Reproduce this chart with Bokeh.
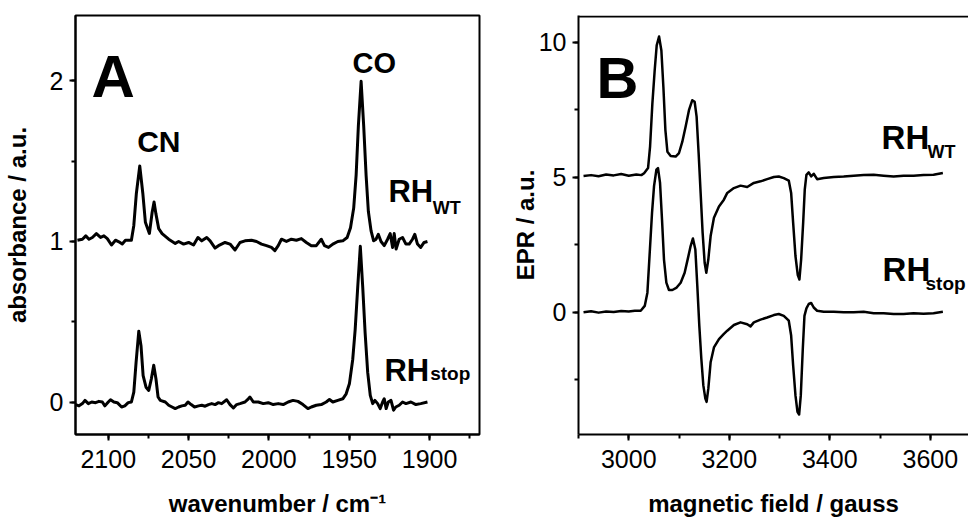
from bokeh.plotting import figure
from bokeh.models import Range1d, SingleIntervalTicker, Label
from bokeh.layouts import row
from bokeh.embed import file_html
from bokeh.resources import INLINE

# ---------------- data: panel A (IR) ----------------
ir_wt_wn = [2119.2, 2116.1, 2114.0, 2112.0, 2109.9, 2107.4, 2104.8, 2102.7, 2100.6, 2098.0,
            2095.5, 2093.4, 2091.3, 2089.3, 2085.6, 2084.1, 2082.5, 2080.4, 2078.5, 2076.9,
            2074.4, 2072.7, 2071.5, 2070.3, 2068.6, 2066.5, 2062.4, 2058.3, 2056.2, 2053.1,
            2050.0, 2046.9, 2044.2, 2041.8, 2038.7, 2036.6, 2033.5, 2031.4, 2027.3, 2024.2,
            2021.1, 2018.0, 2014.9, 2010.8, 2007.7, 2004.6, 2001.5, 1998.4, 1996.3, 1994.2,
            1992.2, 1989.1, 1986.0, 1982.9, 1979.8, 1976.7, 1973.6, 1970.5, 1967.4, 1965.4,
            1962.9, 1960.2, 1957.1, 1954.0, 1951.3, 1949.2, 1947.2, 1945.7, 1944.3, 1942.6,
            1941.0, 1939.5, 1938.1, 1936.4, 1934.8, 1933.3, 1931.9, 1930.2, 1928.2, 1926.1,
            1924.5, 1923.0, 1922.0, 1920.8, 1918.9, 1916.8, 1914.7, 1912.7, 1910.6, 1909.2,
            1907.5, 1905.5, 1903.4, 1901.3]
ir_wt_abs = [1.008, 1.014, 1.035, 1.014, 1.025, 1.049, 1.025, 1.035, 1.018, 0.978,
             1.008, 0.998, 0.984, 1.008, 1.008, 1.10, 1.30, 1.47, 1.30, 1.12,
             1.05, 1.18, 1.245, 1.17, 1.08, 1.049, 1.014, 0.988, 1.0, 0.984,
             0.994, 0.978, 1.025, 1.004, 1.025, 1.004, 0.959, 0.974, 0.994, 0.984,
             0.947, 0.994, 1.004, 1.008, 1.0, 0.984, 0.974, 0.963, 0.943, 0.974,
             1.014, 1.0, 1.014, 1.008, 1.018, 0.994, 0.974, 0.974, 1.014, 0.974,
             0.963, 0.984, 1.0, 1.004, 1.025, 1.086, 1.209, 1.413, 1.72, 1.996,
             1.72, 1.413, 1.188, 1.066, 1.004, 1.014, 1.045, 1.0, 0.974, 1.014,
             1.049, 0.963, 1.049, 0.953, 1.014, 1.025, 0.984, 0.984, 1.014, 1.045,
             0.984, 0.963, 0.994, 1.0]

ir_stop_wn = [2120.3, 2118.2, 2116.1, 2114.5, 2112.4, 2110.3, 2107.9, 2105.8, 2103.7, 2102.1,
              2100.0, 2098.6, 2096.5, 2094.4, 2091.7, 2089.7, 2087.6, 2085.6, 2084.1, 2082.7,
              2081.0, 2079.6, 2078.3, 2076.5, 2074.8, 2073.2, 2071.7, 2070.3, 2069.0, 2067.6,
              2064.5, 2062.4, 2060.3, 2058.3, 2056.2, 2054.2, 2052.1, 2050.4, 2048.4, 2046.3,
              2043.8, 2041.8, 2039.7, 2037.6, 2035.6, 2033.5, 2031.4, 2029.4, 2026.3, 2024.2,
              2022.1, 2020.1, 2018.0, 2014.9, 2012.8, 2011.8, 2009.7, 2006.6, 2003.5, 2000.4,
              1997.3, 1994.2, 1991.1, 1988.0, 1985.0, 1981.9, 1978.8, 1975.7, 1973.6, 1970.5,
              1967.4, 1964.3, 1962.3, 1960.2, 1957.1, 1954.0, 1951.9, 1949.9, 1947.8, 1946.3,
              1944.7, 1943.1, 1941.6, 1940.1, 1938.5, 1936.9, 1935.4, 1934.0, 1932.3, 1930.7,
              1929.2, 1928.2, 1927.0, 1925.7, 1924.0, 1922.4, 1921.0, 1918.9, 1916.8, 1914.7,
              1911.6, 1908.5, 1905.5, 1901.3]
ir_stop_abs = [-0.014, -0.022, -0.008, 0.012, -0.008, 0.002, -0.002, 0.006, 0.002, -0.022,
               0.002, 0.016, 0.002, -0.002, -0.029, -0.022, -0.002, 0.002, 0.064, 0.247,
               0.442, 0.35, 0.166, 0.094, 0.074, 0.145, 0.231, 0.145, 0.033, 0.012,
               0.002, -0.018, -0.029, -0.039, -0.029, -0.022, -0.018, 0.002, -0.014, -0.029,
               -0.022, -0.018, -0.024, -0.014, -0.008, -0.014, -0.002, -0.008, 0.016, -0.014,
               -0.035, -0.014, -0.008, 0.002, 0.022, 0.033, 0.002, 0.002, -0.008, -0.002,
               -0.014, -0.008, -0.014, 0.002, 0.012, 0.006, -0.014, -0.039, -0.029, -0.018,
               -0.014, 0.002, 0.018, 0.002, 0.012, 0.022, 0.053, 0.115, 0.268, 0.452,
               0.718, 0.97, 0.718, 0.431, 0.186, 0.043, -0.008, 0.012, -0.008, -0.039,
               0.002, 0.022, -0.039, 0.002, 0.012, -0.049, -0.029, -0.018, 0.002, -0.008,
               0.002, -0.014, -0.008, 0.002]

# ---------------- data: panel B (EPR) ----------------
epr_wt_field = [2910, 2925, 2940, 2955, 2970, 2985, 3000, 3015, 3025, 3030.5,
                3038.4, 3042.4, 3047, 3051.6, 3055.6, 3060.3, 3064.9, 3068.9, 3072.9, 3076.9,
                3083.4, 3093.3, 3100, 3106.6, 3113.2, 3119.8, 3126.4, 3131.1, 3135, 3139,
                3143, 3147, 3151, 3154.3, 3158.3, 3162.9, 3169.5, 3179.5, 3189.3, 3196,
                3209.2, 3222.4, 3235.7, 3248.9, 3262.2, 3275.4, 3288.7, 3298.5, 3308.5, 3318.4,
                3323.1, 3327.1, 3331.7, 3336.3, 3339.6, 3343, 3347, 3350.2, 3353.5, 3358.1,
                3362.9, 3368, 3374.8, 3388, 3407.9, 3427.7, 3447.6, 3467.4, 3487.3, 3507.1,
                3527, 3546.8, 3566.7, 3586.5, 3606.4, 3625]
epr_wt_signal = [5.05, 5.08, 5.04, 5.10, 5.07, 5.12, 5.06, 5.10, 5.08, 5.15,
                 5.34, 6.14, 7.74, 8.97, 9.89, 10.22, 9.70, 8.35, 6.75, 5.95,
                 5.79, 5.77, 5.90, 6.32, 6.88, 7.49, 7.86, 7.80, 7.25, 5.90,
                 4.42, 2.94, 1.83, 1.46, 1.95, 2.82, 3.50, 3.92, 4.17, 4.42,
                 4.60, 4.69, 4.64, 4.79, 4.85, 4.93, 5.01, 5.03, 4.97, 4.88,
                 4.42, 3.31, 2.08, 1.37, 1.21, 1.95, 3.31, 4.54, 5.09, 5.18,
                 5.03, 5.13, 4.93, 4.97, 5.01, 5.03, 5.06, 5.08, 5.09, 5.06,
                 5.03, 5.06, 5.06, 5.08, 5.09, 5.16]

epr_stop_field = [2910, 2925, 2940, 2955, 2970, 2985, 3000, 3012, 3023.8, 3031.8,
                  3037.1, 3041.7, 3046.3, 3050.3, 3055, 3058.2, 3062.2, 3066.2, 3070.1, 3074.8,
                  3080, 3086.8, 3095.3, 3103.3, 3111.2, 3117.9, 3123.1, 3127.7, 3132.5, 3136.4,
                  3140.4, 3144.4, 3148.4, 3152.4, 3154.9, 3158.3, 3162.9, 3169.5, 3179.5, 3189.3,
                  3196, 3209.2, 3222.4, 3235.7, 3242.3, 3248.9, 3262.2, 3275.4, 3288.7, 3298.5,
                  3308.5, 3318.4, 3323.1, 3327.1, 3331.7, 3335.7, 3339, 3342.3, 3346.3, 3349.6,
                  3353.5, 3358.1, 3362.9, 3368, 3374.8, 3388, 3407.9, 3427.7, 3447.6, 3467.4,
                  3487.3, 3507.1, 3527, 3546.8, 3566.7, 3586.5, 3606.4, 3625]
epr_stop_signal = [-0.01, 0.03, -0.02, 0.02, 0.00, 0.04, 0.02, 0.05, 0.05, 0.23,
                   0.72, 2.20, 3.68, 4.67, 5.28, 5.34, 4.80, 3.42, 1.95, 1.09,
                   0.82, 0.82, 0.91, 1.09, 1.46, 2.01, 2.45, 2.73, 2.32, 0.97,
                   -0.51, -1.73, -2.72, -3.21, -3.33, -2.84, -1.86, -1.31, -1.00, -0.81,
                   -0.69, -0.48, -0.38, -0.45, -0.53, -0.38, -0.28, -0.20, -0.11, -0.07,
                   -0.14, -0.32, -0.87, -1.98, -3.09, -3.70, -3.80, -3.09, -1.36, -0.14,
                   0.14, 0.30, 0.34, 0.17, 0.05, 0.01, 0.01, -0.01, -0.01, 0.01,
                   -0.04, -0.04, -0.07, -0.07, -0.04, -0.06, -0.04, 0.01]

# ---------------- styling helpers ----------------
FONT = "Liberation Sans"


def style_axis(ax, ticker, label_standoff, tick_standoff):
    ax.ticker = ticker
    ax.axis_line_width = 2
    ax.axis_line_color = "black"
    ax.major_tick_line_width = 2
    ax.minor_tick_line_width = 2
    ax.major_tick_in = 0
    ax.major_tick_out = 6
    ax.minor_tick_in = 0
    ax.minor_tick_out = 4
    ax.major_label_text_font = FONT
    ax.major_label_text_font_size = "25px"
    ax.major_label_text_color = "black"
    ax.major_label_standoff = tick_standoff
    ax.axis_label_text_font = FONT
    ax.axis_label_text_font_style = "bold"
    ax.axis_label_text_font_size = "24px"
    ax.axis_label_text_color = "black"
    ax.axis_label_standoff = label_standoff


def add_label(p, x, y, text, size):
    p.add_layout(Label(x=x, y=y, text=text, text_font=FONT, text_font_size=size,
                       text_font_style="bold", text_color="black",
                       text_align="left", text_baseline="alphabetic"))


# ---------------- panel A ----------------
pa = figure(width=484, height=519, output_backend="svg", toolbar_location=None,
            x_range=Range1d(2120.4, 1868.9), y_range=Range1d(-0.2, 2.405),
            min_border_left=73, min_border_right=5, min_border_top=15, min_border_bottom=79)
pa.grid.visible = False
pa.outline_line_color = "black"
pa.outline_line_width = 2
pa.background_fill_color = "white"
pa.border_fill_color = "white"
pa.line(ir_wt_wn, ir_wt_abs, line_color="black", line_width=3, line_join="round")
pa.line(ir_stop_wn, ir_stop_abs, line_color="black", line_width=3, line_join="round")
pa.xaxis.axis_label = "wavenumber / cm\u207b\u00b9"
pa.yaxis.axis_label = "absorbance / a.u."
style_axis(pa.xaxis[0], SingleIntervalTicker(interval=50, num_minor_ticks=2), 19, 9)
style_axis(pa.yaxis[0], SingleIntervalTicker(interval=1, num_minor_ticks=2), 16, 6)

add_label(pa, 2110.5, 2.025, "A", "60px")
add_label(pa, 2082.0, 1.62, "CN", "30px")
add_label(pa, 1948.0, 2.11, "CO", "29px")
add_label(pa, 1925.6, 1.313, "RH", "31px")
add_label(pa, 1898.0, 1.209, "WT", "18px")
add_label(pa, 1928.1, 0.196, "RH", "31px")
add_label(pa, 1899.6, 0.178, "stop", "19px")

# ---------------- panel B ----------------
# frame runs to the right edge of the window; only its top border is drawn
pb = figure(width=484, height=519, output_backend="svg", toolbar_location=None,
            x_range=Range1d(2900, 3676), y_range=Range1d(-4.54, 11.0),
            min_border_left=94, min_border_right=0, min_border_top=15, min_border_bottom=83)
pb.grid.visible = False
pb.outline_line_color = None
pb.background_fill_color = "white"
pb.border_fill_color = "white"
pb.line(epr_wt_field, epr_wt_signal, line_color="black", line_width=2.5, line_join="round")
pb.line(epr_stop_field, epr_stop_signal, line_color="black", line_width=2.5, line_join="round")
pb.xaxis.axis_label = "magnetic field / gauss"
pb.yaxis.axis_label = "EPR / a.u."
style_axis(pb.xaxis[0], SingleIntervalTicker(interval=200, num_minor_ticks=2), 19, 9)
style_axis(pb.yaxis[0], SingleIntervalTicker(interval=5, num_minor_ticks=2), -3, 6)

# top frame border as a glyph (sits just inside the frame's top edge)
pb.hspan(y=[pb.y_range.end - 0.02], line_color="black", line_width=2)

add_label(pb, 2936.0, 8.71, "B", "58px")
add_label(pb, 3503.0, 6.49, "RH", "33px")
add_label(pb, 3594.4, 5.94, "WT", "18px")
add_label(pb, 3505.0, 1.59, "RH", "33px")
add_label(pb, 3590.5, 1.07, "stop", "19px")

layout = row(pa, pb)
open("out.html", "w").write(file_html(layout, INLINE))
